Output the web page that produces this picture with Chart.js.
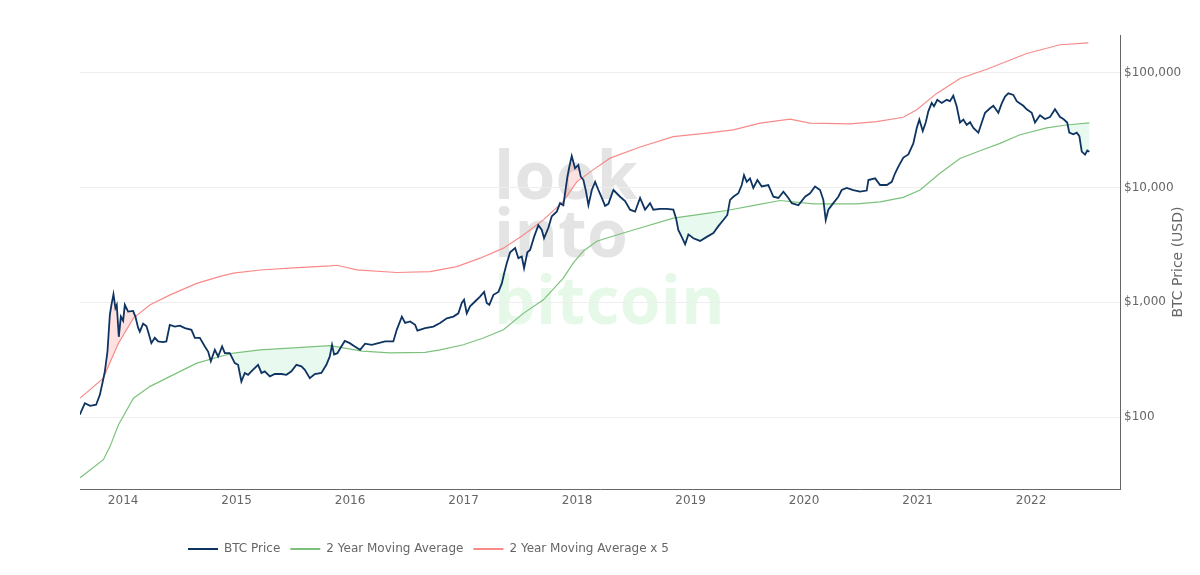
<!DOCTYPE html>
<html>
<head>
<meta charset="utf-8">
<title>BTC 2 Year MA Multiplier</title>
<script src="https://cdn.jsdelivr.net/npm/chart.js"></script>
<style>
  html, body { margin: 0; padding: 0; background: #ffffff; }
  #wrap { position: relative; width: 1200px; height: 575px; overflow: hidden; }
  .wm { position: absolute; left: 494px; font-family: "Open Sans", Roboto, sans-serif; font-weight: 700;
        font-size: 66px; line-height: 66px; letter-spacing: 0.3px; white-space: nowrap; }
  #chart { position: absolute; left: 0; top: 0; }
</style>
</head>
<body>
<div id="wrap">
  <div class="wm" style="top:140px;color:#e4e4e4">look</div>
  <div class="wm" style="top:198px;color:#e4e4e4">into</div>
  <div class="wm" style="top:265px;color:#e6f9e9">bitcoin</div>
  <canvas id="chart" width="1200" height="575"></canvas>
</div>
<script>
// ---------- DATA ----------
const seriesLabels = ['BTC Price', '2 Year Moving Average', '2 Year Moving Average x 5'];

const priceYears = [
  2013.618, 2013.663, 2013.709, 2013.762, 2013.795, 2013.824, 2013.839, 2013.862, 2013.883, 2013.897,
  2013.915, 2013.932, 2013.944, 2013.962, 2013.980, 2014.000, 2014.015, 2014.044, 2014.088, 2014.108,
  2014.132, 2014.147, 2014.176, 2014.205, 2014.220, 2014.249, 2014.279, 2014.308, 2014.352, 2014.381,
  2014.411, 2014.456, 2014.500, 2014.544, 2014.602, 2014.632, 2014.676, 2014.720, 2014.749, 2014.773,
  2014.808, 2014.837, 2014.872, 2014.896, 2014.940, 2014.984, 2015.013, 2015.042, 2015.072, 2015.101,
  2015.130, 2015.189, 2015.219, 2015.248, 2015.293, 2015.337, 2015.395, 2015.439, 2015.483, 2015.527,
  2015.571, 2015.601, 2015.645, 2015.689, 2015.747, 2015.791, 2015.821, 2015.841, 2015.859, 2015.888,
  2015.923, 2015.953, 2015.997, 2016.041, 2016.088, 2016.132, 2016.191, 2016.249, 2016.308, 2016.381,
  2016.411, 2016.456, 2016.485, 2016.529, 2016.573, 2016.593, 2016.661, 2016.734, 2016.793, 2016.852,
  2016.910, 2016.954, 2016.984, 2017.004, 2017.028, 2017.057, 2017.101, 2017.145, 2017.181, 2017.204,
  2017.227, 2017.263, 2017.307, 2017.337, 2017.357, 2017.381, 2017.410, 2017.454, 2017.483, 2017.513,
  2017.533, 2017.562, 2017.586, 2017.621, 2017.659, 2017.689, 2017.709, 2017.747, 2017.777, 2017.821,
  2017.850, 2017.879, 2017.894, 2017.915, 2017.932, 2017.953, 2017.982, 2018.011, 2018.033, 2018.056,
  2018.079, 2018.100, 2018.130, 2018.159, 2018.188, 2018.218, 2018.247, 2018.276, 2018.320, 2018.379,
  2018.423, 2018.467, 2018.511, 2018.555, 2018.599, 2018.643, 2018.672, 2018.731, 2018.790, 2018.848,
  2018.872, 2018.892, 2018.922, 2018.952, 2018.981, 2019.025, 2019.084, 2019.143, 2019.201, 2019.245,
  2019.289, 2019.324, 2019.348, 2019.377, 2019.421, 2019.451, 2019.471, 2019.495, 2019.524, 2019.553,
  2019.589, 2019.627, 2019.685, 2019.730, 2019.774, 2019.818, 2019.862, 2019.892, 2019.950, 2020.009,
  2020.053, 2020.097, 2020.141, 2020.170, 2020.191, 2020.214, 2020.258, 2020.302, 2020.332, 2020.376,
  2020.434, 2020.493, 2020.552, 2020.567, 2020.626, 2020.670, 2020.729, 2020.773, 2020.802, 2020.831,
  2020.875, 2020.919, 2020.963, 2020.993, 2021.016, 2021.046, 2021.072, 2021.095, 2021.125, 2021.145,
  2021.174, 2021.213, 2021.257, 2021.286, 2021.315, 2021.345, 2021.374, 2021.404, 2021.433, 2021.463,
  2021.492, 2021.536, 2021.566, 2021.595, 2021.639, 2021.668, 2021.712, 2021.742, 2021.771, 2021.800,
  2021.844, 2021.874, 2021.903, 2021.932, 2021.962, 2022.006, 2022.035, 2022.079, 2022.123, 2022.167,
  2022.211, 2022.256, 2022.285, 2022.319, 2022.337, 2022.373, 2022.403, 2022.426, 2022.447, 2022.476,
  2022.496, 2022.514
];
const priceValues = [
  105, 132, 125, 128, 156, 211, 250, 372, 778, 950,
  1176, 890, 950, 500, 750, 690, 950, 830, 840, 750,
  600, 555, 650, 620, 555, 440, 490, 456, 450, 455,
  635, 614, 625, 595, 575, 490, 490, 412, 372, 306,
  385, 337, 412, 360, 360, 295, 285, 204, 242, 233,
  250, 285, 242, 250, 226, 237, 237, 233, 250, 285,
  276, 258, 218, 237, 242, 285, 337, 425, 350, 360,
  412, 460, 440, 412, 385, 435, 425, 440, 456, 456,
  575, 750, 660, 680, 635, 567, 595, 614, 660, 725,
  750, 800, 985, 1050, 800, 920, 1015, 1120, 1230, 985,
  950, 1160, 1230, 1460, 1780, 2200, 2720, 2970, 2420, 2500,
  1980, 2720, 2850, 3710, 4700, 4260, 3610, 4450, 5600, 6150,
  7300, 7000, 8900, 12400, 15200, 18800, 14700, 15700, 12400, 11600,
  9200, 7000, 9500, 11200, 9500, 8100, 6900, 7200, 9500, 8300,
  7600, 6400, 6150, 8100, 6400, 7300, 6400, 6500, 6500, 6400,
  5400, 4260, 3710, 3200, 3900, 3610, 3420, 3710, 4000, 4600,
  5200, 5760, 7800, 8300, 8900, 10500, 12800, 11200, 12000, 9900,
  11600, 10200, 10500, 8300, 8100, 9200, 8100, 7300, 7000, 8300,
  8900, 10200, 9500, 7800, 5200, 6400, 7300, 8300, 9500, 9900,
  9500, 9200, 9400, 11600, 12000, 10500, 10500, 11200, 13300, 15200,
  18200, 19400, 24200, 33000, 39000, 31000, 36800, 46000, 54500, 51000,
  58000, 54500, 58000, 56500, 63000, 51000, 36800, 39000, 35000, 37000,
  33000, 30000, 36800, 44700, 49000, 51500, 44700, 54000, 62000, 66000,
  64000, 56500, 54000, 51500, 48000, 44700, 36800, 42500, 39500, 41000,
  48000, 41000, 39500, 36800, 30000, 29000, 30000, 28000, 20500, 19300,
  21000, 20500
];

const maYears = [
  2013.621, 2013.826, 2013.885, 2013.959, 2014.091, 2014.238, 2014.414, 2014.649, 2014.855, 2014.972,
  2015.207, 2015.500, 2015.824, 2015.941, 2016.106, 2016.352, 2016.661, 2016.793, 2016.998, 2017.174,
  2017.351, 2017.527, 2017.703, 2017.879, 2017.967, 2018.056, 2018.174, 2018.291, 2018.496, 2018.848,
  2019.143, 2019.319, 2019.583, 2019.789, 2020.082, 2020.464, 2020.670, 2020.875, 2021.022, 2021.198,
  2021.374, 2021.551, 2021.727, 2021.903, 2022.138, 2022.314, 2022.514
];
const maValues = [
  29.6, 42.5, 55.5, 85.7, 146, 185, 226, 295, 337, 360,
  385, 400, 418, 400, 375, 362, 366, 385, 426, 488,
  575, 800, 1050, 1620, 2200, 2800, 3400, 3700, 4260, 5400,
  5950, 6300, 7050, 7700, 7200, 7200, 7500, 8200, 9500, 13300,
  17900, 20900, 24200, 28800, 33000, 35000, 36500
];

const ma5Years = [
  2013.621, 2013.826, 2013.885, 2013.959, 2014.091, 2014.238, 2014.414, 2014.649, 2014.855, 2014.972,
  2015.207, 2015.500, 2015.824, 2015.883, 2016.059, 2016.411, 2016.705, 2016.940, 2017.145, 2017.351,
  2017.527, 2017.703, 2017.879, 2017.997, 2018.144, 2018.291, 2018.555, 2018.848, 2019.143, 2019.377,
  2019.612, 2019.877, 2020.053, 2020.405, 2020.640, 2020.875, 2020.993, 2021.169, 2021.374, 2021.610,
  2021.962, 2022.256, 2022.505
];
const ma5Values = [
  146, 218, 300, 440, 727, 950, 1160, 1460, 1680, 1790,
  1910, 1990, 2075, 2100, 1915, 1815, 1850, 2045, 2420, 2960,
  3860, 5220, 7570, 11200, 14300, 18000, 22500, 27700, 29700, 31700,
  36300, 39300, 36300, 35800, 37500, 40900, 47500, 66000, 89000, 107000,
  147000, 175000, 182000
];

const xTickYears = [2014, 2015, 2016, 2017, 2018, 2019, 2020, 2021, 2022];
const yTickValues = [100, 1000, 10000, 100000];
const yAxisTitle = 'BTC Price (USD)';

// ---------- CHART ----------
const toPoints = (xs, ys) => xs.map((x, i) => ({ x: x, y: ys[i] }));
const FONT = 'DejaVu Sans';
const TXT = '#666666';

const legendShift = {
  id: 'legendShift',
  afterLayout(chart) { if (chart.legend) chart.legend.left = 178; }
};
const yTitlePlugin = {
  id: 'yTitlePlugin',
  afterDraw(chart) {
    const { ctx, chartArea } = chart;
    ctx.save();
    ctx.translate(chartArea.right + 58, (chartArea.top + chartArea.bottom) / 2);
    ctx.rotate(-Math.PI / 2);
    ctx.font = '14px "' + FONT + '"';
    ctx.fillStyle = TXT;
    ctx.textAlign = 'center';
    ctx.textBaseline = 'middle';
    ctx.fillText(yAxisTitle, 0, 0);
    ctx.restore();
  }
};

new Chart(document.getElementById('chart'), {
  type: 'line',
  data: {
    datasets: [
      {
        label: seriesLabels[0],
        data: toPoints(priceYears, priceValues),
        borderColor: '#0e3461',
        backgroundColor: '#0e3461',
        borderWidth: 1.8,
        fill: false
      },
      {
        label: seriesLabels[1],
        data: toPoints(maYears, maValues),
        borderColor: '#7cc27c',
        backgroundColor: '#7cc27c',
        borderWidth: 1.2,
        fill: { target: 0, above: 'rgba(0,200,80,0.09)', below: 'rgba(0,0,0,0)' }
      },
      {
        label: seriesLabels[2],
        data: toPoints(ma5Years, ma5Values),
        borderColor: '#f88a8a',
        backgroundColor: '#f88a8a',
        borderWidth: 1.2,
        fill: { target: 0, above: 'rgba(0,0,0,0)', below: 'rgba(245,60,60,0.15)' }
      }
    ]
  },
  options: {
    responsive: false,
    animation: false,
    events: [],
    layout: { padding: { left: 80, top: 35, right: 0, bottom: 10 } },
    elements: { point: { radius: 0 }, line: { tension: 0 } },
    plugins: {
      tooltip: { enabled: false },
      legend: {
        position: 'bottom',
        align: 'start',
        labels: {
          boxWidth: 30,
          boxHeight: 2,
          padding: 10,
          color: TXT,
          font: { family: FONT, size: 12 },
          generateLabels: (chart) =>
            Chart.defaults.plugins.legend.labels.generateLabels(chart)
              .map(l => Object.assign({}, l, { fillStyle: l.strokeStyle, lineWidth: 0 }))
        }
      }
    },
    scales: {
      x: {
        type: 'linear',
        min: 2013.62,
        max: 2022.784,
        afterBuildTicks: (s) => { s.ticks = xTickYears.map(v => ({ value: v })); },
        afterFit: (s) => { s.height = 44; },
        ticks: {
          callback: (v) => String(v),
          color: TXT,
          font: { family: FONT, size: 12 },
          padding: 5,
          maxRotation: 0,
          autoSkip: false
        },
        grid: { display: false, drawTicks: false },
        border: { display: true, color: '#666666', width: 1 }
      },
      y: {
        type: 'logarithmic',
        position: 'right',
        min: 23.6,
        max: 212900,
        afterBuildTicks: (s) => { s.ticks = yTickValues.map(v => ({ value: v })); },
        afterFit: (s) => { s.width = 80; },
        ticks: {
          callback: (v) => '$' + Number(v).toLocaleString('en-US'),
          color: TXT,
          font: { family: FONT, size: 12 },
          padding: 4,
          autoSkip: false
        },
        grid: { color: '#eeeeee', lineWidth: 1, drawTicks: false },
        border: { display: true, color: '#666666', width: 1 }
      }
    }
  },
  plugins: [legendShift, yTitlePlugin]
});
</script>
</body>
</html>
